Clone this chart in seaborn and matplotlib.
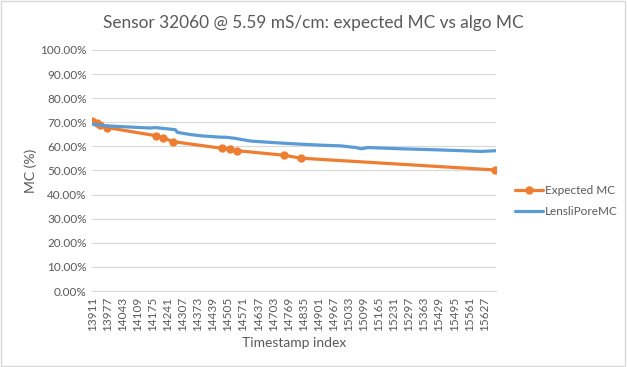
import numpy as np
import pandas as pd
import seaborn as sns
import matplotlib.pyplot as plt
from matplotlib.ticker import FuncFormatter

# Expected MC (sparse lab points)
exp_idx = [13911, 13932, 13946, 13975, 14192, 14220, 14263, 14477, 14512, 14546, 14752, 14824, 15676]
exp_mc = [70.5, 69.6, 68.9, 67.8, 64.4, 63.6, 62.0, 59.2, 58.8, 58.2, 56.3, 55.1, 50.2]

# algo MC
algo_idx = [13911, 13975, 14078, 14166, 14187, 14275, 14284, 14341, 14385, 14473, 14495,
            14538, 14604, 14714, 14824, 14911, 14999, 15065, 15087, 15118, 15262, 15407,
            15556, 15613, 15677]
algo_mc = [69.2, 68.5, 68.0, 67.6, 67.8, 66.9, 65.8, 64.9, 64.4, 63.8, 63.8,
           63.3, 62.2, 61.5, 60.9, 60.5, 60.2, 59.5, 59.0, 59.5, 59.0, 58.6,
           58.1, 57.9, 58.2]

tick_labels = list(range(13911, 15628, 66))

sns.set_style("white")
plt.rcParams['font.family'] = ['Lato', 'DejaVu Sans']

GRAY = '#595959'
ORANGE = '#ED7D31'
BLUE = '#5B9BD5'

df_exp = pd.DataFrame({'idx': exp_idx, 'mc': exp_mc})
df_algo = pd.DataFrame({'idx': algo_idx, 'mc': algo_mc})

fig = plt.figure(figsize=(6.27, 3.67), dpi=100)
ax = fig.add_axes([0.147, 0.207, 0.644, 0.657])

sns.lineplot(data=df_exp, x='idx', y='mc', ax=ax, color=ORANGE, linewidth=2.3,
             marker='o', markersize=6, markeredgewidth=0, label='Expected MC')
sns.lineplot(data=df_algo, x='idx', y='mc', ax=ax, color=BLUE, linewidth=2.3,
             label='LensliPoreMC')

ax.set_ylim(0, 100)
ax.set_yticks(np.arange(0, 101, 10))
ax.yaxis.set_major_formatter(FuncFormatter(lambda v, p: '%.2f%%' % v))
ax.set_xlim(13911, 15678)
ax.set_xticks(tick_labels)
ax.set_xticklabels([str(t) for t in tick_labels], rotation=90)
ax.tick_params(axis='both', length=0, labelsize=8.5, colors=GRAY, pad=4)
ax.grid(axis='y', color='#d9d9d9', linewidth=0.9)
ax.set_axisbelow(True)
for s in ['top', 'right', 'left']:
    ax.spines[s].set_visible(False)
ax.spines['bottom'].set_color('#d9d9d9')

ax.set_xlabel('Timestamp index', fontsize=10, color=GRAY, labelpad=4)
ax.set_ylabel('MC (%)', fontsize=10, color=GRAY, labelpad=2)
fig.text(0.5, 0.937, 'Sensor 32060 @ 5.59 mS/cm: expected MC vs algo MC',
         ha='center', va='center', fontsize=12.4, color=GRAY)

ax.legend(loc='center left', bbox_to_anchor=(1.047, 0.373), frameon=False,
          borderaxespad=0, borderpad=0,
          fontsize=8.5, labelcolor=GRAY, handlelength=2.37, handletextpad=0.2,
          labelspacing=0.85)

fig.patches.append(plt.Rectangle((0.002, 0.003), 0.995, 0.994, transform=fig.transFigure,
                                 fill=False, edgecolor='#d9d9d9', linewidth=1))
fig.savefig('out.png', dpi=100)
